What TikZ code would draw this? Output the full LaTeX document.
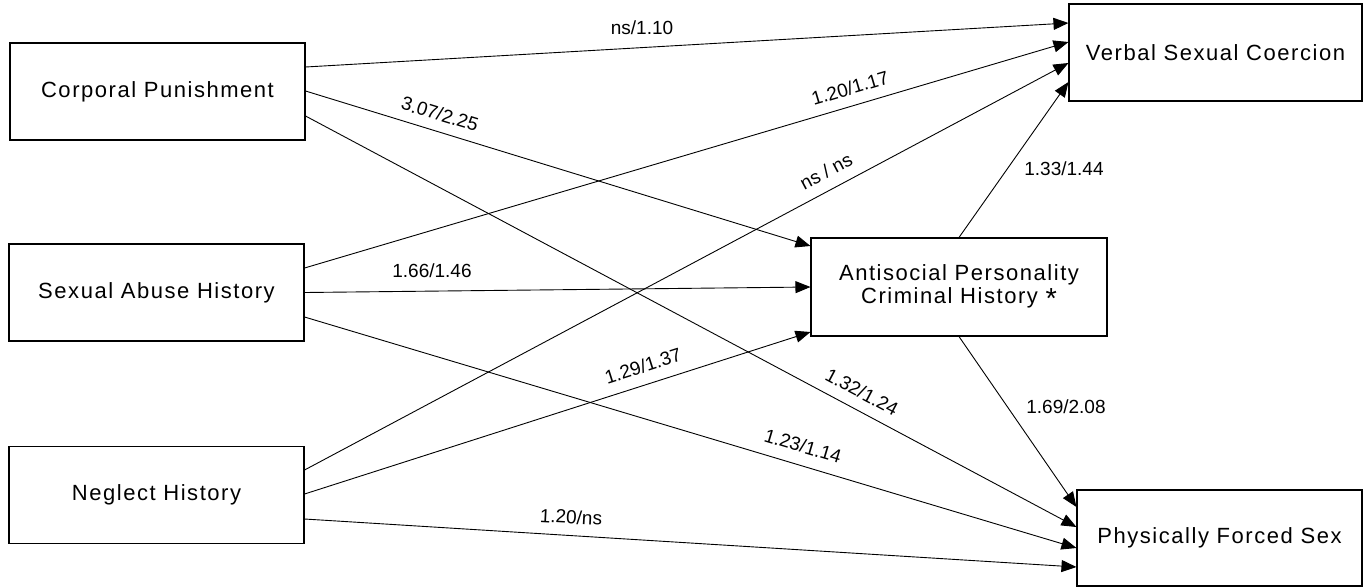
\documentclass[tikz,border=0pt]{standalone}
\usepackage{fontspec}
\setmainfont{Liberation Sans}
\newfontfamily\boxfont[LetterSpace=7]{Liberation Sans}
\usetikzlibrary{arrows.meta}
\newcommand{\bigast}{\raisebox{-5pt}{\fontsize{29pt}{0pt}\selectfont *}}
\begin{document}
\begin{tikzpicture}[x=1pt,y=-1pt,
  box/.style={draw, line width=1.1pt, fill=white, minimum height=97pt, inner sep=2pt,
    font=\boxfont\fontsize{22pt}{23pt}\selectfont, align=center},
  arr/.style={line width=0.9pt, -{Triangle[length=15pt,width=12pt]}},
  lbl/.style={font=\fontsize{19pt}{21pt}\selectfont, inner sep=0pt}]
\useasboundingbox (0,0) rectangle (1367,587);
% boxes
\node[box, minimum width=295pt] (cp) at (157.5,91.5) {Corporal Punishment};
\node[box, minimum width=295pt] (sa) at (156.5,292.5) {Sexual Abuse History};
\node[box, minimum width=295pt] (ng) at (156.5,495) {Neglect History};
\node[box, minimum width=293pt] (vsc) at (1215.5,52.5) {Verbal Sexual Coercion};
\node[box, minimum width=296pt, minimum height=98pt] (asp) at (959,287) {Antisocial Personality\\Criminal History \bigast};
\node[box, minimum width=285pt, minimum height=96pt] (pfs) at (1219.5,538) {Physically Forced Sex};
% connectors
\draw[arr] ([yshift=24.5pt]cp.east) -- ([yshift=29.5pt]vsc.west);
\draw[arr] ([yshift=0.5pt]cp.east) -- ([yshift=41pt]asp.west);
\draw[arr] ([yshift=-24.5pt]cp.east) -- ([yshift=11pt]pfs.west);
\draw[arr] ([yshift=24.5pt]sa.east) -- ([yshift=10.5pt]vsc.west);
\draw[arr] (sa.east) -- (asp.west);
\draw[arr] ([yshift=-24.5pt]sa.east) -- ([yshift=-10pt]pfs.west);
\draw[arr] ([yshift=25pt]ng.east) -- ([yshift=-10.5pt]vsc.west);
\draw[arr] ([yshift=1pt]ng.east) -- ([yshift=-45pt]asp.west);
\draw[arr] ([yshift=-24pt]ng.east) -- ([yshift=-29pt]pfs.west);
\draw[arr] (asp.north) -- ([yshift=-29.5pt]vsc.west);
\draw[arr] (asp.south) -- ([yshift=31pt]pfs.west);
% labels
\node[lbl] (l1) at (642,28) {ns/1.10};
\node[lbl, rotate=-17] (l2) at (440,114) {3.07/2.25};
\node[lbl] (l3) at (432,271) {1.66/1.46};
\node[lbl, rotate=16.5] (l4) at (850,88) {1.20/1.17};
\node[lbl, rotate=28] (l5) at (826,171) {ns / ns};
\node[lbl] (l6) at (1064,169) {1.33/1.44};
\node[lbl, rotate=17.7] (l7) at (643,366) {1.29/1.37};
\node[lbl, rotate=-3] (l8) at (571,517) {1.20/ns};
\node[lbl, rotate=-28] (l9) at (862,392) {1.32/1.24};
\node[lbl, rotate=-16.6] (l10) at (803,446) {1.23/1.14};
\node[lbl] (l11) at (1066,407) {1.69/2.08};
\end{tikzpicture}
\end{document}
